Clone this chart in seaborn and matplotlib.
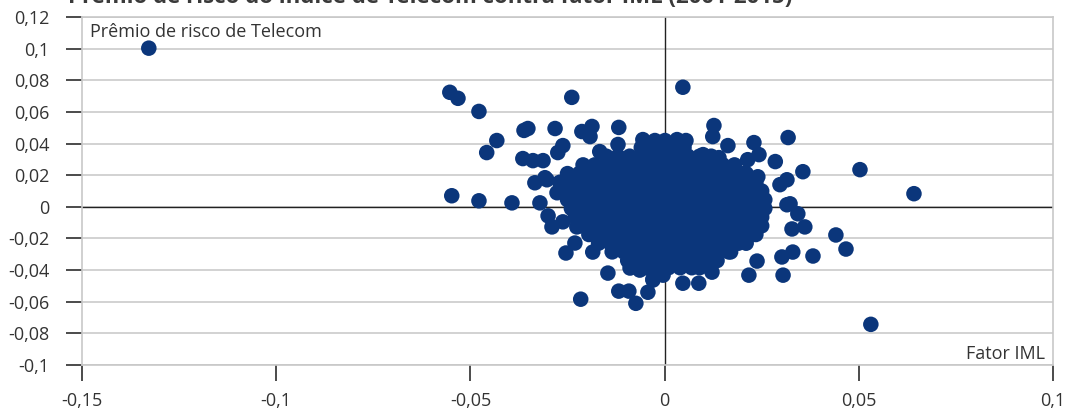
import matplotlib
matplotlib.use("Agg")
import matplotlib.pyplot as plt
import seaborn as sns
import pandas as pd

# ---- data ----
# isolated / edge points
out_x = [-0.1328, -0.0553, -0.0532, -0.0478, -0.0239, 0.0047, -0.0432, -0.0458, -0.0362, -0.0352,
         -0.0282, -0.0213, -0.0187, -0.0118, -0.0192, -0.0262, -0.0275, -0.0365, -0.0339, -0.0313,
         -0.0334, -0.0308, -0.0548, -0.0478, -0.0393, -0.0321, -0.0300, -0.0290, -0.0262, -0.0231,
         -0.0254, -0.0185, -0.0146, -0.0118, -0.0092, -0.0074, -0.0043, -0.0030, -0.0216, -0.0089,
         -0.0064, -0.0120, -0.0167, 0.0127, 0.0124, 0.0163, 0.0230, 0.0243, 0.0285, 0.0318,
         0.0356, 0.0315, 0.0297, 0.0503, 0.0642, 0.0343, 0.0315, 0.0240, 0.0214, 0.0140,
         0.0099, 0.0055, 0.0032, 0.0001, -0.0025, -0.0056, 0.0361, 0.0441, 0.0467, 0.0382,
         0.0330, 0.0302, 0.0305, 0.0238, 0.0217, 0.0122, 0.0088, 0.0047, -0.0004, -0.0030,
         0.0531, 0.0323, 0.0328, -0.0277, -0.0303, -0.0226]
out_y = [0.1003, 0.0724, 0.0686, 0.0603, 0.0692, 0.0756, 0.0419, 0.0343, 0.0483, 0.0495,
         0.0495, 0.0476, 0.0508, 0.0502, 0.0444, 0.0387, 0.0343, 0.0305, 0.0292, 0.0292,
         0.0152, 0.0184, 0.0070, 0.0038, 0.0025, 0.0025, -0.0057, -0.0127, -0.0095, -0.0229,
         -0.0292, -0.0286, -0.0419, -0.0533, -0.0533, -0.0610, -0.0540, -0.0463, -0.0584, -0.0387,
         -0.0400, 0.0394, 0.0349, 0.0514, 0.0444, 0.0387, 0.0406, 0.0330, 0.0286, 0.0438,
         0.0222, 0.0171, 0.0140, 0.0235, 0.0083, -0.0044, 0.0013, 0.0190, 0.0298, 0.0311,
         0.0330, 0.0419, 0.0425, 0.0419, 0.0419, 0.0425, -0.0127, -0.0178, -0.0267, -0.0311,
         -0.0286, -0.0317, -0.0432, -0.0343, -0.0432, -0.0413, -0.0483, -0.0483, -0.0432, -0.0457,
         -0.0743, 0.0019, -0.0140, 0.0089, 0.0171, -0.0127]

# dense core of the cloud, row by row (y value of each row, x values in it)
core_row_y = [0.0375, 0.032, 0.0265, 0.021, 0.0155, 0.01, 0.0045, -0.001, -0.0065,
              -0.012, -0.0175, -0.023, -0.0285, -0.034, -0.0385]
core_row_x = [
    [-0.006, -0.003, 0.0, 0.003, 0.005],
    [-0.015, -0.012, -0.009, -0.006, -0.003, 0.0, 0.003, 0.006, 0.009, 0.012],
    [-0.021, -0.018, -0.015, -0.012, -0.009, -0.006, -0.003, 0.0, 0.003, 0.006, 0.009, 0.012, 0.015, 0.018],
    [-0.025, -0.022, -0.019, -0.016, -0.013, -0.010, -0.007, -0.004, -0.001, 0.002, 0.005, 0.008, 0.011,
     0.014, 0.017, 0.020, 0.021],
    [-0.027, -0.024, -0.021, -0.018, -0.015, -0.012, -0.009, -0.006, -0.003, 0.0, 0.003, 0.006, 0.009,
     0.012, 0.015, 0.018, 0.021, 0.0235],
    [-0.0257, -0.0227, -0.0197, -0.0167, -0.0137, -0.0107, -0.0077, -0.0047, -0.0017, 0.0013, 0.0043,
     0.0073, 0.0103, 0.0133, 0.0163, 0.0193, 0.0223, 0.025],
    [-0.025, -0.022, -0.019, -0.016, -0.013, -0.010, -0.007, -0.004, -0.001, 0.002, 0.005, 0.008, 0.011,
     0.014, 0.017, 0.020, 0.023, 0.0258],
    [-0.024, -0.021, -0.018, -0.015, -0.012, -0.009, -0.006, -0.003, 0.0, 0.003, 0.006, 0.009, 0.012,
     0.015, 0.018, 0.021, 0.024, 0.0258],
    [-0.023, -0.020, -0.017, -0.014, -0.011, -0.008, -0.005, -0.002, 0.001, 0.004, 0.007, 0.010, 0.013,
     0.016, 0.019, 0.022, 0.025],
    [-0.0218, -0.0188, -0.0158, -0.0128, -0.0098, -0.0068, -0.0038, -0.0008, 0.0022, 0.0052, 0.0082,
     0.0112, 0.0142, 0.0172, 0.0202, 0.0232, 0.025],
    [-0.0195, -0.0165, -0.0135, -0.0105, -0.0075, -0.0045, -0.0015, 0.0015, 0.0045, 0.0075, 0.0105,
     0.0135, 0.0165, 0.0195, 0.0225, 0.0235],
    [-0.017, -0.014, -0.011, -0.008, -0.005, -0.002, 0.001, 0.004, 0.007, 0.010, 0.013, 0.016, 0.019, 0.021],
    [-0.0135, -0.0105, -0.0075, -0.0045, -0.0015, 0.0015, 0.0045, 0.0075, 0.0105, 0.0135, 0.0165, 0.017],
    [-0.0095, -0.0065, -0.0035, -0.0005, 0.0025, 0.0055, 0.0085, 0.0115, 0.0135],
    [-0.005, -0.002, 0.001, 0.004, 0.007, 0.009],
]

x_ticks = [-0.15, -0.1, -0.05, 0, 0.05, 0.1]
x_tick_labels = ["-0,15", "-0,1", "-0,05", "0", "0,05", "0,1"]
y_ticks = [0.12, 0.1, 0.08, 0.06, 0.04, 0.02, 0, -0.02, -0.04, -0.06, -0.08, -0.1]
y_tick_labels = ["0,12", "0,1", "0,08", "0,06", "0,04", "0,02", "0", "-0,02", "-0,04", "-0,06", "-0,08", "-0,1"]

title = "Prêmio de risco do índice de Telecom contra fator IML (2001-2015)"
y_label = "Prêmio de risco de Telecom"
x_label = "Fator IML"

# ---- build table ----
xs = list(out_x)
ys = list(out_y)
for ry, row in zip(core_row_y, core_row_x):
    xs.extend(row)
    ys.extend([ry] * len(row))
df = pd.DataFrame({"iml": xs, "telecom": ys})

# ---- plot ----
sns.set_style("ticks")
plt.rcParams["font.family"] = ["Open Sans", "DejaVu Sans"]
plt.rcParams.update({
    "xtick.bottom": True, "ytick.left": True,
    "xtick.direction": "out", "ytick.direction": "out",
    "xtick.major.size": 11.5, "ytick.major.size": 11.5,
    "xtick.major.width": 1.1, "ytick.major.width": 1.1,
    "xtick.color": "#1a1a1a", "ytick.color": "#1a1a1a",
    "xtick.major.pad": 8, "ytick.major.pad": 12,
})

fig = plt.figure(figsize=(10.67, 4.11), dpi=100)
ax = fig.add_axes([82 / 1067, 1 - 365 / 411, 971 / 1067, 348 / 411])

point_color = "#0b367b"
grid_color = "#d2d2d2"
text_color = "#333333"

for yt in y_ticks:
    ax.axhline(yt, color=grid_color, lw=1.4, zorder=0)
ax.axhline(0, color="#222222", lw=1.0, zorder=1)
ax.axvline(0, color="#222222", lw=1.0, zorder=1)

sns.scatterplot(data=df, x="iml", y="telecom", ax=ax, s=125, color=point_color,
                edgecolor="none", linewidth=0, zorder=3, legend=False)

ax.set_xlim(-0.15, 0.1)
ax.set_ylim(-0.1, 0.12)
ax.set_xticks(x_ticks)
ax.set_xticklabels(x_tick_labels)
ax.set_yticks(y_ticks)
ax.set_yticklabels(y_tick_labels)
ax.set_xlabel("")
ax.set_ylabel("")

ax.tick_params(axis="both", which="major", labelsize=13, labelcolor=text_color)

for side in ["left", "right", "top", "bottom"]:
    ax.spines[side].set_visible(True)
    ax.spines[side].set_color("#c8c8c8")
    ax.spines[side].set_linewidth(1.2)

ax.text(0.008, 0.958, y_label, transform=ax.transAxes, ha="left", va="center",
        fontsize=13, color=text_color)
ax.text(0.992, 0.032, x_label, transform=ax.transAxes, ha="right", va="center",
        fontsize=13, color=text_color)

fig.text(68 / 1067, 1 - 3 / 411, title, ha="left", va="baseline",
         fontsize=16, fontweight="bold", color="#3a3a3a")

fig.savefig("out.png", dpi=100)
